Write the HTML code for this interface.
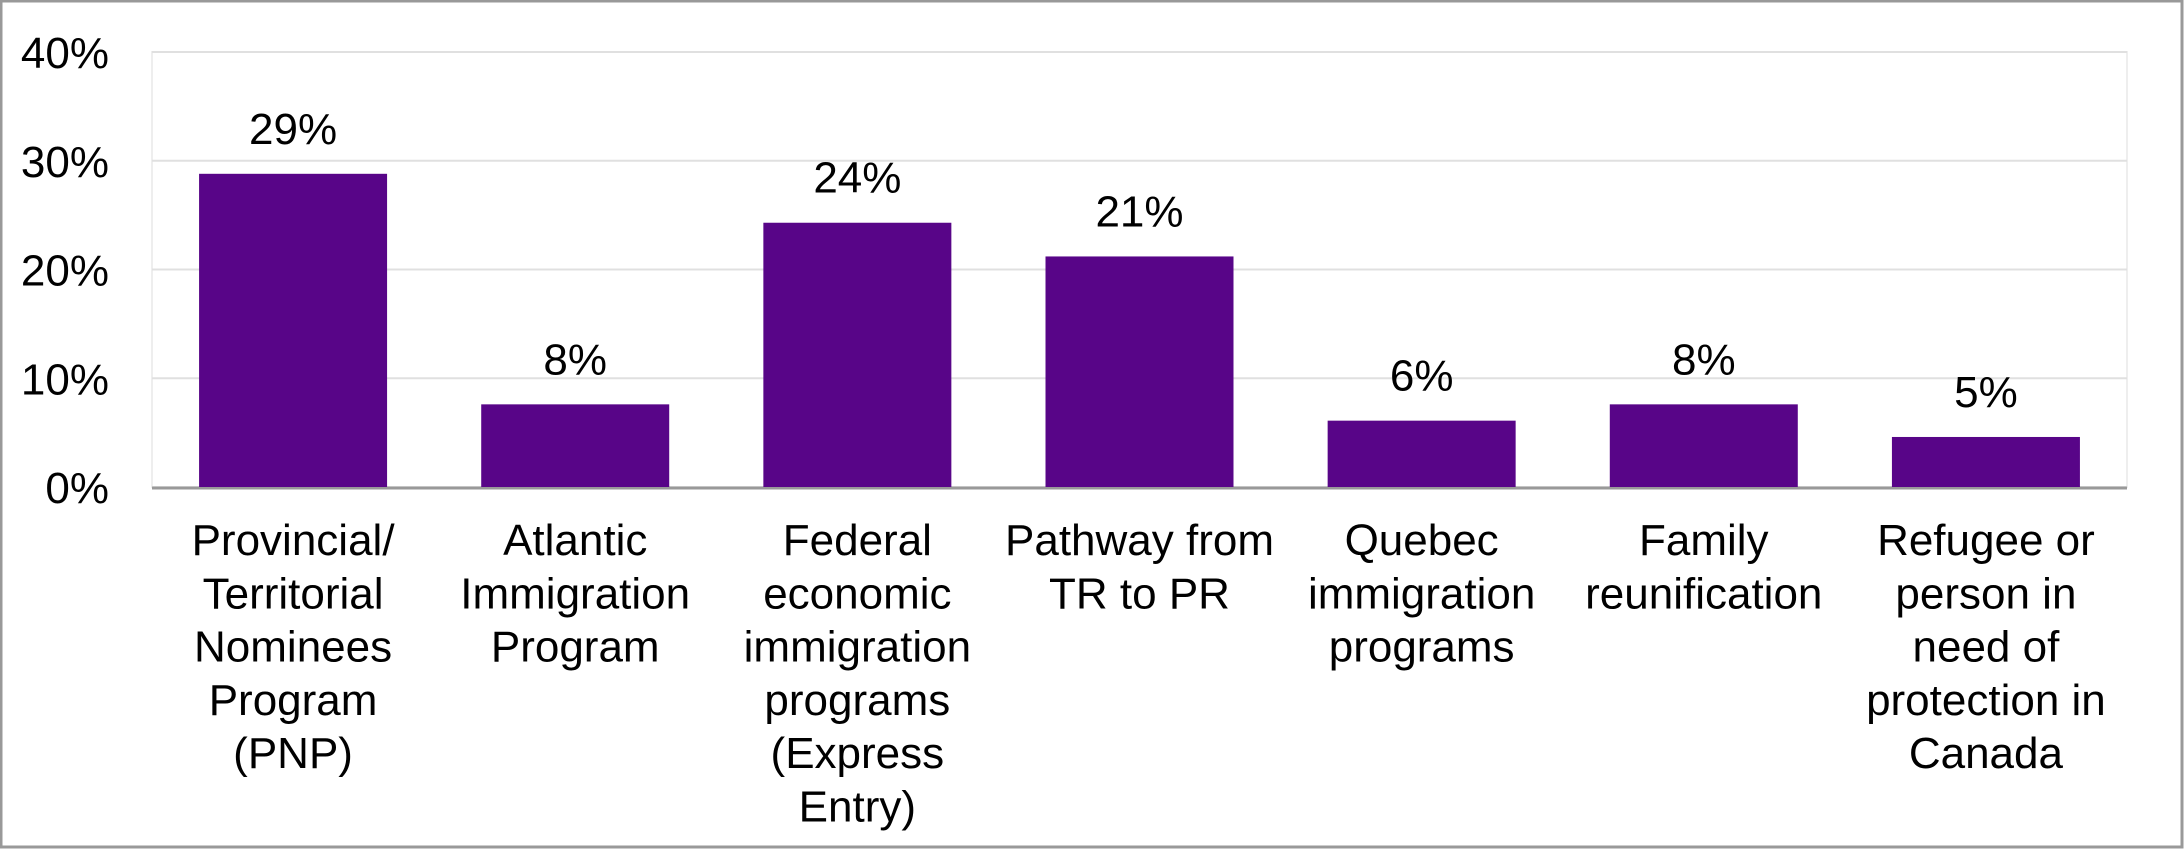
<!DOCTYPE html>
<html><head><meta charset="utf-8"><style>
html,body{margin:0;padding:0;background:#fff;}
svg{display:block;font-family:"Liberation Sans",Arial,sans-serif;}
</style></head><body>
<svg id="chart" width="2184" height="849">
<rect x="1" y="1" width="2181" height="846" fill="#fff" stroke="#999" stroke-width="3"/>
<g id="grid"></g><g id="bars"></g><g id="labels"></g>
</svg>
<script>
const categories=[["Provincial/","Territorial","Nominees","Program","(PNP)"],["Atlantic","Immigration","Program"],["Federal","economic","immigration","programs","(Express","Entry)"],["Pathway from","TR to PR"],["Quebec","immigration","programs"],["Family","reunification"],["Refugee or","person in","need of","protection in","Canada"]];
const values=[28.8,7.6,24.3,21.2,6.1,7.6,4.6];
const valueLabels=["29%","8%","24%","21%","6%","8%","5%"];
const ticks=[0,10,20,30,40];
const tickLabels=["0%","10%","20%","30%","40%"];

const NS="http://www.w3.org/2000/svg";
const L=152,R=2127,T=52,B=487,maxV=40;
const y=v=>B-(v/maxV)*(B-T);
const step=(R-L)/values.length;
const xc=i=>L+step*(i+0.5);
const bw=188;
function mk(tag,attrs,parent,text){const e=document.createElementNS(NS,tag);for(const k in attrs)e.setAttribute(k,attrs[k]);if(text!==undefined)e.textContent=text;parent.appendChild(e);return e;}
const grid=document.getElementById('grid'),bars=document.getElementById('bars'),labels=document.getElementById('labels');
const frame=mk('rect',{x:L,y:T,width:R-L,height:B-T,fill:'none',stroke:'#eeeeee','stroke-width':2},grid);


ticks.forEach((t,i)=>{
  if(t>0){const g=mk('line',{x1:L,x2:R,y1:y(t),y2:y(t),stroke:'#e0e0e0','stroke-width':2},grid);
  
  }
  const tl=mk('text',{x:109,y:y(t)+16,'text-anchor':'end','font-size':44,fill:'#000'},labels,tickLabels[i]);
  
  
});
values.forEach((v,i)=>{
  const r=mk('rect',{x:xc(i)-bw/2,y:y(v),width:bw,height:B-y(v),fill:'#580588'},bars);
  
  
  const t=mk('text',{x:xc(i),y:y(v)-30,'text-anchor':'middle','font-size':44,fill:'#000'},labels,valueLabels[i]);
  
  
  categories[i].forEach((line,j)=>{
    const c=mk('text',{x:xc(i),y:555+j*53.3,'text-anchor':'middle','font-size':44,fill:'#000'},labels,line);
    
    
  });
});
const ax=mk('line',{x1:L,x2:R,y1:B+1,y2:B+1,stroke:'#999','stroke-width':3},grid);


</script>
</body></html>
